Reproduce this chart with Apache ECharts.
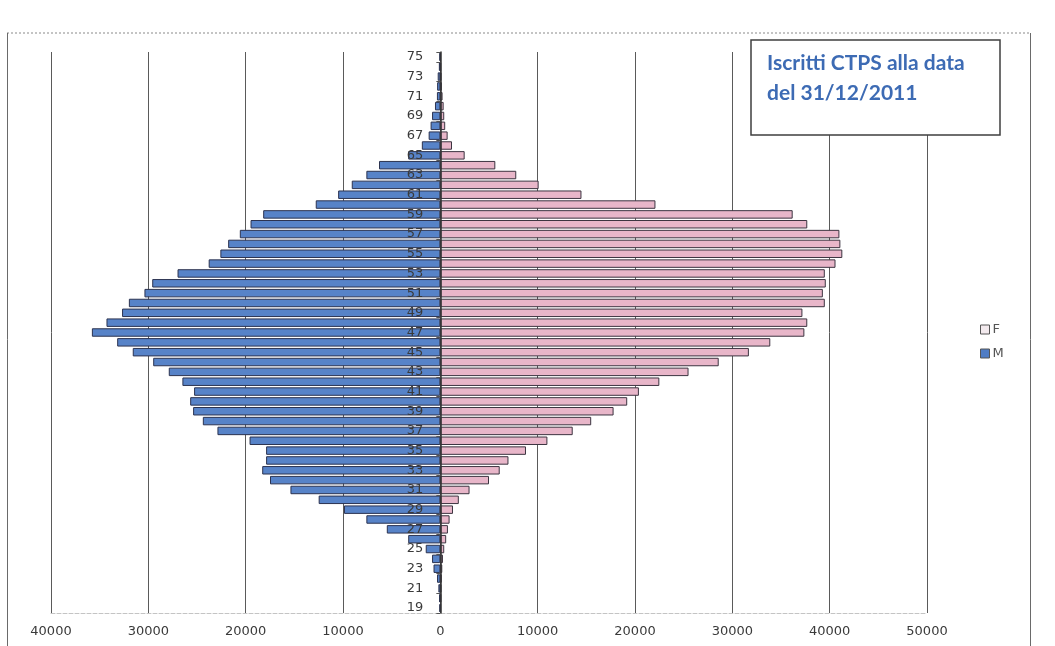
<!DOCTYPE html>
<html>
<head>
<meta charset="utf-8">
<title>Iscritti CTPS alla data del 31/12/2011</title>
<script src="https://cdn.jsdelivr.net/npm/echarts@6/dist/echarts.min.js"></script>
<style>
  html, body { margin: 0; padding: 0; background: #ffffff; }
  #chart { width: 1055px; height: 646px; }
</style>
</head>
<body>
<div id="chart"></div>
<script>
// Age classes, from youngest (bottom) to oldest (top)
const ages = [];
for (let a = 19; a <= 75; a++) ages.push(String(a));

// Enrolled men per age, 19 … 75
const maschi = [
  100, 130, 200, 340, 700, 850, 1500, 3300, 5500, 7600,
  9900, 12500, 15400, 17500, 18300, 17900, 17900, 19600, 22900, 24400,
  25400, 25700, 25300, 26500, 27900, 29500, 31600, 33200, 35800, 34300,
  32700, 32000, 30400, 29600, 27000, 23800, 22600, 21800, 20600, 19500,
  18200, 12800, 10500, 9100, 7600, 6300, 3300, 1900, 1200, 1000,
  850, 550, 350, 330, 270, 150, 100
];

// Enrolled women per age, 19 … 75
const femmine = [
  50, 80, 100, 140, 200, 270, 400, 600, 780, 950,
  1300, 1900, 3000, 5000, 6100, 7000, 8800, 11000, 13600, 15500,
  17800, 19200, 20400, 22500, 25500, 28600, 31700, 33900, 37400, 37700,
  37200, 39500, 39300, 39600, 39500, 40600, 41300, 41100, 41000, 37700,
  36200, 22100, 14500, 10100, 7800, 5650, 2500, 1200, 750, 500,
  400, 340, 230, 150, 100, 60, 40
];

// Value-axis ticks
const xMin = -40000, xMax = 50000, xStep = 10000;

const titolo = ['Iscritti CTPS alla data', 'del 31/12/2011'];

const GRID_LEFT = 51, GRID_RIGHT = 128;
const chartWidth = 1055;
// horizontal position of the zero value, used to set the age axis on it
const plotWidth = chartWidth - GRID_LEFT - GRID_RIGHT;
const zeroOffset = plotWidth * (0 - xMin) / (xMax - xMin);

const chart = echarts.init(document.getElementById('chart'), null, { renderer: 'canvas' });

const AXIS_FONT = 'DejaVu Sans';

chart.setOption({
  backgroundColor: '#ffffff',
  animation: false,
  grid: { left: GRID_LEFT, right: GRID_RIGHT, top: 52, bottom: 33, containLabel: false },
  legend: {
    orient: 'vertical',
    left: 975,
    top: 318,
    itemWidth: 9,
    itemHeight: 9,
    itemGap: 11,
    icon: 'rect',
    textStyle: { fontFamily: AXIS_FONT, fontSize: 13, color: '#555555', padding: [0, 0, 0, -2] },
    data: [
      { name: 'F', itemStyle: { color: '#f3eaee', borderColor: '#555555', borderWidth: 1 } },
      { name: 'M', itemStyle: { color: '#4f7cc4', borderColor: '#555555', borderWidth: 1 } }
    ]
  },
  xAxis: {
    type: 'value',
    min: xMin,
    max: xMax,
    interval: xStep,
    axisLine: { show: true, onZero: false, lineStyle: { color: '#c4c4c4', type: 'dashed', width: 1 } },
    axisTick: { show: false },
    axisLabel: {
      margin: 12,
      fontFamily: AXIS_FONT,
      fontSize: 13,
      color: '#3a3a3a',
      formatter: v => String(Math.abs(v))
    },
    splitLine: { show: true, lineStyle: { color: '#5a5a5a', width: 1 } }
  },
  yAxis: {
    type: 'category',
    data: ages,
    z: 10,
    position: 'left',
    offset: -zeroOffset,
    axisLine: { show: true, onZero: false, lineStyle: { color: '#333333', width: 1.5 } },
    axisTick: { show: true, length: 4, interval: 1, lineStyle: { color: '#555555' } },
    axisLabel: {
      interval: 1,
      margin: 17,
      fontFamily: AXIS_FONT,
      fontSize: 13,
      color: '#3a3a3a'
    },
    splitLine: { show: false }
  },
  series: [
    {
      name: 'F',
      type: 'bar',
      data: femmine,
      barGap: '-100%',
      barCategoryGap: '14%',
      itemStyle: { color: '#e8b6c9', borderColor: '#3c3440', borderWidth: 1 }
    },
    {
      name: 'M',
      type: 'bar',
      data: maschi.map(v => -v),
      barGap: '-100%',
      barCategoryGap: '14%',
      itemStyle: { color: '#5783c8', borderColor: '#2c3350', borderWidth: 1 }
    }
  ],
  graphic: [
    // outer frame of the chart area
    { type: 'line', shape: { x1: 7, y1: 33, x2: 1031, y2: 33 },
      style: { stroke: '#8a8a8a', lineWidth: 1, lineDash: [2, 2] }, silent: true },
    { type: 'line', shape: { x1: 7.5, y1: 33, x2: 7.5, y2: 646 },
      style: { stroke: '#6a6a6a', lineWidth: 1 }, silent: true },
    { type: 'line', shape: { x1: 1030.5, y1: 33, x2: 1030.5, y2: 646 },
      style: { stroke: '#6a6a6a', lineWidth: 1 }, silent: true },
    // boxed title
    { type: 'rect', z: 20, shape: { x: 751, y: 40, width: 249, height: 95 },
      style: { fill: '#ffffff', stroke: '#3f3f3f', lineWidth: 1.5 } },
    { type: 'text', z: 21, left: 767, top: 53,
      style: { text: titolo[0], font: 'bold 21px Lato', fill: '#3d6bb4' } },
    { type: 'text', z: 21, left: 767, top: 83,
      style: { text: titolo[1], font: 'bold 21px Lato', fill: '#3d6bb4' } }
  ]
});
</script>
</body>
</html>
